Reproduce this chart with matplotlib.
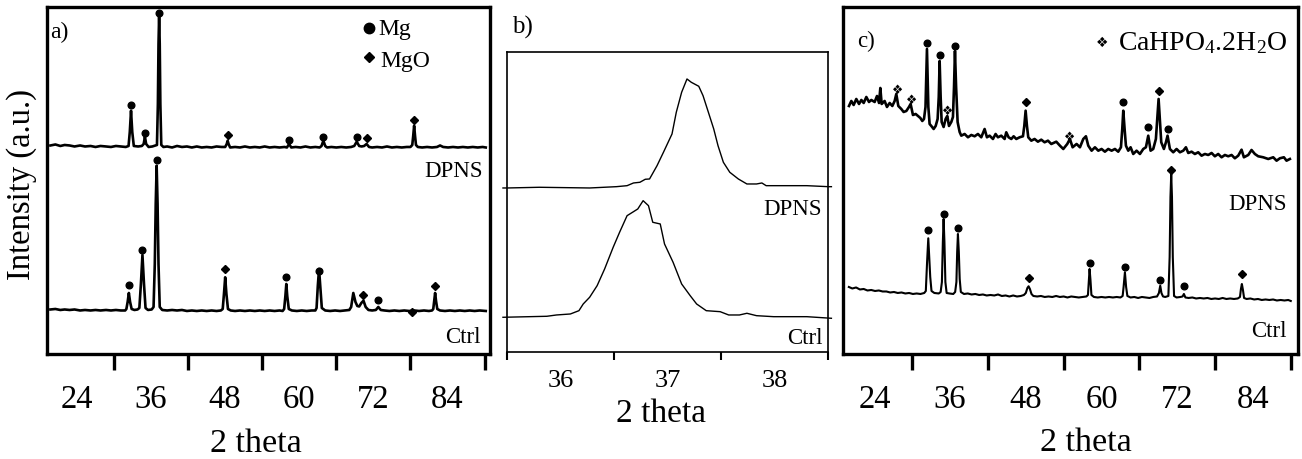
import numpy as np
import matplotlib
matplotlib.use("Agg")
import matplotlib.pyplot as plt

plt.rcParams['font.family'] = ['Liberation Serif', 'DejaVu Sans']
plt.rcParams['mathtext.fontset'] = 'custom'
plt.rcParams['mathtext.rm'] = 'Liberation Serif'
plt.rcParams['mathtext.it'] = 'Liberation Serif:italic'

# ---------------- data ----------------
# panel a: XRD patterns (2 theta, intensity a.u., stacked)
a_dpns = np.array([
    (19.7, 208.5), (20.5, 209.5), (21.3, 208), (22.0, 209), (22.8, 208.5), (23.6, 207.5),
    (24.5, 208.5), (25.3, 207.5), (26.2, 208), (27.0, 207), (27.8, 208), (28.7, 207.5),
    (29.5, 207), (30.3, 208), (31.1, 207.5), (31.9, 207),
    (32.35, 208), (32.55, 222), (32.75, 243.3), (32.95, 222), (33.2, 208),
    (33.9, 207.5), (34.5, 208), (34.8, 210), (35.0, 217.3), (35.2, 210), (35.6, 207),
    (36.2, 207.5), (36.95, 209), (37.1, 250), (37.2, 310), (37.3, 338), (37.4, 310),
    (37.5, 250), (37.65, 209), (38.0, 207), (38.6, 207.5), (39.4, 206.5), (40.2, 208),
    (41.0, 207), (41.8, 207.5), (42.6, 206.5), (43.4, 207.5), (44.2, 206.5), (45.0, 207),
    (45.8, 206.5), (46.6, 207.5), (47.4, 207), (48.0, 207), (48.25, 210), (48.4, 213.3),
    (48.55, 210), (48.8, 206.5), (49.6, 207), (50.4, 206.5), (51.2, 207.5), (52.0, 206.5),
    (52.8, 207), (53.6, 206.5), (54.4, 207.5), (55.2, 206.5), (56.0, 207), (56.8, 206.5),
    (57.6, 207), (58.0, 206.5), (58.35, 210), (58.7, 206.5), (59.4, 207), (60.2, 206.5),
    (61.0, 207.5), (61.8, 206.5), (62.6, 207), (63.3, 206.5), (63.6, 208), (63.9, 213.3),
    (64.2, 208), (64.5, 206.5), (65.2, 207), (66.0, 206.5), (66.8, 207), (67.6, 206.5),
    (68.4, 207), (68.9, 208), (69.3, 212.3), (69.7, 208), (70.1, 207.5), (70.5, 208),
    (70.9, 210), (71.3, 207), (71.8, 206.5), (72.6, 207), (73.4, 206.5), (74.2, 207.5),
    (75.0, 206.5), (75.8, 207), (76.6, 206.5), (77.4, 207), (78.0, 207), (78.3, 209),
    (78.45, 218), (78.6, 228.3), (78.75, 218), (78.9, 209), (79.2, 207), (79.9, 206.5),
    (80.7, 207), (81.5, 206.5), (82.3, 207), (82.8, 208.5), (83.3, 207), (84.1, 206.5),
    (84.9, 207), (85.7, 206.5), (86.5, 207), (87.3, 206.5), (88.1, 207), (88.9, 206.5),
    (89.7, 207), (90.2, 206.5)])

a_ctrl = np.array([
    (19.7, 44.5), (20.5, 45), (21.3, 44), (22.0, 44.5), (22.8, 44), (23.6, 44.5),
    (24.5, 43.5), (25.3, 44), (26.2, 43.5), (27.0, 44), (27.8, 43.5), (28.7, 44),
    (29.5, 43.5), (30.3, 44), (31.1, 43.5), (31.8, 43.5),
    (32.0, 45), (32.2, 52), (32.4, 61), (32.6, 52), (32.85, 45), (33.3, 44), (33.8, 44.5),
    (34.1, 46), (34.35, 70), (34.6, 99), (34.85, 70), (35.1, 46), (35.5, 44), (36.1, 44.5),
    (36.4, 47), (36.6, 90), (36.75, 150), (36.9, 188.3), (37.05, 150), (37.2, 90), (37.4, 47),
    (37.8, 44), (38.6, 43.5), (39.4, 44), (40.2, 43.5), (41.0, 44), (41.8, 43), (42.6, 43.5),
    (43.4, 43), (44.2, 43.5), (45.0, 43), (45.8, 43.5), (46.6, 43), (47.3, 43.5),
    (47.6, 45), (47.8, 60), (48.0, 76.7), (48.2, 60), (48.45, 45), (48.9, 43.5), (49.6, 43),
    (50.4, 43.5), (51.2, 43), (52.0, 43.5), (52.8, 43), (53.6, 43.5), (54.4, 43), (55.2, 43.5),
    (56.0, 43), (56.8, 43.5), (57.3, 43), (57.55, 45), (57.75, 58), (57.9, 70), (58.05, 58),
    (58.3, 45), (58.8, 43.5), (59.6, 43), (60.4, 43.5), (61.2, 43), (62.0, 43.5), (62.6, 43.5),
    (62.8, 46), (63.0, 68), (63.2, 85), (63.4, 68), (63.65, 46), (64.2, 43.5), (65.0, 43),
    (65.8, 43.5), (66.6, 43), (67.4, 43.5), (68.1, 44), (68.4, 47), (68.75, 61), (69.1, 52),
    (69.4, 48), (69.7, 47.5), (70.05, 51), (70.4, 53.3), (70.75, 47), (71.2, 44), (71.8, 43.5),
    (72.4, 44), (72.8, 47), (73.2, 44), (73.8, 43.5), (74.6, 43), (75.4, 43.5), (76.2, 43),
    (77.0, 43.5), (77.8, 43), (78.6, 43.5), (79.4, 43), (80.2, 43.5), (81.0, 43), (81.5, 43.5),
    (81.7, 45), (81.85, 53), (82.0, 61), (82.15, 53), (82.35, 45), (82.8, 43.5), (83.6, 43),
    (84.4, 43.5), (85.2, 43), (86.0, 43.5), (86.8, 43), (87.6, 43.5), (88.4, 43),
    (89.2, 43.5), (90.2, 43)])

# phase markers for panel a (2 theta, height)
a_dpns_mg = np.array([(32.75, 249), (35.0, 221), (37.3, 341), (58.35, 214), (63.9, 217.3), (69.3, 217.3)])
a_dpns_mgo = np.array([(48.4, 219.3), (70.9, 215.7), (78.6, 234)])
a_ctrl_mg = np.array([(32.4, 69), (34.6, 104), (36.9, 194), (57.9, 77), (63.2, 83), (72.8, 54.3)])
a_ctrl_mgo = np.array([(48.0, 85), (70.4, 59.3), (78.2, 42), (82.0, 68.3)])

# panel b: magnified (002)/(101) region
b_dpns = np.array([
    (35.46, 164.3), (35.5, 164.3), (35.8, 165), (36.27, 164.3), (36.52, 165.6), (36.62, 166.6),
    (36.68, 169.3), (36.74, 170), (36.79, 173), (36.83, 173.3), (36.90, 186.6), (36.96, 200),
    (37.04, 218.3), (37.08, 240), (37.13, 260), (37.18, 273.3), (37.22, 270), (37.29, 266),
    (37.33, 256.6), (37.38, 240), (37.43, 223.3), (37.47, 206.6), (37.52, 190), (37.58, 180),
    (37.66, 173.3), (37.74, 168.3), (37.83, 168.3), (37.88, 169.3), (37.92, 166.6),
    (38.05, 166.6), (38.30, 166.6), (38.5, 165.6), (38.53, 165.6)])
b_ctrl = np.array([
    (35.46, 35), (35.87, 36), (35.96, 37.3), (36.09, 38.3), (36.17, 41.6), (36.21, 48.3),
    (36.27, 55), (36.34, 66.6), (36.41, 83.3), (36.49, 105), (36.55, 120), (36.62, 136.6),
    (36.68, 140.6), (36.72, 143.3), (36.77, 151.6), (36.82, 146.6), (36.86, 130),
    (36.93, 128.3), (36.97, 108.3), (37.05, 90), (37.13, 68.3), (37.21, 56.6), (37.27, 48.3),
    (37.36, 41.6), (37.49, 40.6), (37.57, 37.3), (37.67, 37.3), (37.74, 39), (37.83, 36.6),
    (37.99, 35.6), (38.30, 35.6), (38.53, 34)])

# panel c: XRD patterns after immersion
c_dpns = np.array([
    (19.97, 251), (20.34, 256), (20.71, 252), (21.13, 258), (21.56, 253), (21.93, 257),
    (22.30, 254), (22.72, 260), (23.14, 255), (23.51, 257), (24.04, 255), (24.41, 261),
    (24.73, 254), (24.94, 269), (25.15, 253), (25.62, 256), (25.99, 250), (26.42, 254),
    (26.84, 251), (27.21, 256), (27.47, 263), (27.79, 251), (28.26, 248), (28.63, 245),
    (29.06, 246), (29.48, 250), (29.74, 253), (30.11, 242), (30.54, 243), (30.91, 241),
    (31.28, 239), (31.59, 236), (31.86, 238), (32.10, 250), (32.33, 308), (32.55, 250),
    (32.75, 233), (33.02, 231), (33.39, 228), (33.71, 231), (34.02, 238), (34.20, 260),
    (34.34, 296), (34.50, 260), (34.66, 235), (34.97, 230), (35.29, 238), (35.55, 241),
    (35.82, 231), (36.19, 235), (36.45, 240), (36.62, 270), (36.77, 306), (36.95, 270),
    (37.19, 235), (37.51, 225), (37.77, 221.3), (38.30, 223), (38.83, 219.7), (39.36, 222),
    (39.89, 220.7), (40.41, 223), (40.94, 219.7), (41.47, 228), (41.84, 219.7), (42.26, 221.3),
    (42.79, 218), (43.21, 223), (43.58, 219.7), (44.11, 221.3), (44.64, 218), (44.90, 224.7),
    (45.27, 219.7), (45.70, 218), (46.07, 220.7), (46.49, 218), (47.02, 219.7), (47.55, 220.7),
    (47.76, 231), (47.97, 246.3), (48.18, 231), (48.39, 219.7), (48.87, 216.3), (49.39, 218),
    (49.92, 215.3), (50.45, 217.3), (50.98, 214.7), (51.51, 216.3), (52.04, 213),
    (52.83, 215.3), (53.41, 211.3), (53.94, 208), (54.57, 213), (54.99, 218), (55.42, 209.7),
    (56.05, 213), (56.58, 209.7), (57.11, 218), (57.53, 220.7), (57.90, 211.3), (58.43, 206.3),
    (58.96, 209.7), (59.49, 206.3), (60.01, 208), (60.54, 205.3), (61.07, 208), (61.60, 206.3),
    (62.13, 208), (62.65, 205.3), (63.08, 209.7), (63.29, 228), (63.45, 246.3), (63.66, 228),
    (63.87, 211.3), (64.24, 206.3), (64.61, 209.7), (65.03, 203), (65.56, 206.3), (66.09, 203),
    (66.62, 208), (67.04, 209.7), (67.41, 221.3), (67.78, 206.3), (68.20, 208), (68.62, 218),
    (69.05, 258), (69.47, 214.7), (69.89, 208), (70.21, 214.7), (70.47, 221.3), (70.84, 208),
    (71.37, 204.7), (71.90, 208), (72.43, 204.7), (72.96, 206.3), (73.38, 209.7), (73.75, 204),
    (74.28, 205.3), (74.80, 203), (75.33, 204.7), (75.86, 201.3), (76.39, 203), (76.92, 202),
    (77.45, 204), (77.97, 200.7), (78.50, 203), (79.03, 199.7), (79.56, 202), (80.09, 200.7),
    (80.62, 202), (81.14, 198.7), (81.67, 201.3), (82.20, 207.3), (82.57, 199.7), (83.26, 202),
    (83.78, 207), (84.31, 203), (84.84, 200.7), (85.63, 199.7), (86.43, 198), (87.22, 199.7),
    (87.75, 196.3), (88.28, 198.7), (88.91, 199.7), (89.33, 196.3), (89.86, 198)])

c_ctrl = np.array([
    (19.95, 70), (20.5, 68.5), (21.1, 69.5), (21.7, 67.5), (22.3, 68), (22.9, 66.5), (23.5, 67),
    (24.1, 66), (24.7, 66.5), (25.3, 65.5), (25.9, 65.5), (26.5, 64.5), (27.1, 65), (27.7, 64),
    (28.3, 64.5), (28.9, 63.5), (29.5, 64), (30.1, 63), (30.7, 63.5), (31.3, 63), (31.9, 64),
    (32.15, 66), (32.35, 95), (32.54, 118.7), (32.7, 98), (32.85, 80), (33.05, 66), (33.5, 64),
    (34.2, 63.5), (34.5, 65), (34.7, 75), (34.85, 115), (34.97, 138), (35.1, 115), (35.25, 75),
    (35.45, 64), (35.9, 63.5), (36.5, 63), (36.8, 65), (37.0, 75), (37.12, 105), (37.24, 123),
    (37.38, 105), (37.52, 78), (37.7, 65), (38.2, 63), (38.8, 63.5), (39.4, 62.5), (40.0, 63),
    (40.6, 62), (41.2, 62.5), (41.8, 61.5), (42.4, 62), (43.0, 61.5), (43.6, 62.5), (44.2, 61),
    (44.8, 61.5), (45.4, 60.5), (46.0, 61.5), (46.6, 60.5), (47.2, 61), (47.7, 62), (48.0, 64),
    (48.25, 69), (48.44, 70.7), (48.65, 68), (48.9, 63), (49.2, 61), (49.8, 60.5), (50.4, 61),
    (51.0, 60), (51.6, 60.5), (52.2, 60), (52.8, 61), (53.4, 60), (54.0, 60.5), (54.6, 59.5),
    (55.2, 60.5), (55.8, 60), (56.4, 59.5), (57.0, 60), (57.6, 60.5), (57.85, 62), (58.0, 77),
    (58.11, 88), (58.25, 77), (58.4, 62), (58.8, 60), (59.4, 59.5), (60.0, 60), (60.6, 59.5),
    (61.2, 60), (61.8, 59.5), (62.4, 60), (63.0, 59.5), (63.35, 61), (63.5, 70), (63.71, 84.7),
    (63.9, 70), (64.1, 61), (64.6, 59.5), (65.2, 60), (65.8, 59), (66.4, 60), (67.0, 59.5),
    (67.6, 59), (68.2, 60), (68.8, 60.5), (69.1, 64), (69.31, 71.3), (69.5, 64), (69.75, 60.5),
    (70.1, 60), (70.6, 61), (70.8, 100), (70.93, 160), (71.05, 183), (71.17, 160), (71.3, 100),
    (71.5, 61), (71.9, 59.5), (72.5, 60), (72.85, 60.5), (73.06, 63), (73.3, 59.5), (73.8, 59),
    (74.4, 59.5), (75.0, 58.5), (75.6, 59), (76.2, 58.5), (76.8, 59), (77.4, 58), (78.0, 58.5),
    (78.6, 58), (79.2, 59), (79.8, 58), (80.4, 58.5), (81.0, 58), (81.6, 58.5), (81.95, 60),
    (82.1, 68), (82.25, 73), (82.42, 67), (82.6, 59), (83.0, 58), (83.6, 58.5), (84.2, 57.5),
    (84.8, 58), (85.4, 57), (86.0, 57.5), (86.6, 57), (87.2, 57.5), (87.8, 56.5), (88.4, 57),
    (89.0, 56.5), (89.6, 57), (90.0, 56)])

c_dpns_mg = np.array([(32.33, 314), (34.34, 302), (36.77, 311), (63.45, 254.7), (67.41, 229.7), (70.47, 228)])
c_dpns_mgo = np.array([(47.97, 255.3), (69.05, 266.3)])
c_dpns_dcpd = np.array([(27.63, 268), (29.85, 257.3), (35.55, 247), (55.0, 220.7)])
c_ctrl_mg = np.array([(32.54, 127), (34.97, 143), (37.24, 128.7), (58.11, 93.7), (63.71, 89.7), (69.31, 77), (73.06, 70.7)])
c_ctrl_mgo = np.array([(48.44, 78.7), (71.05, 187), (82.25, 83)])

wide_ticks = [30, 42, 54, 66, 78, 90]
wide_labels = [24, 36, 48, 60, 72, 84]
zoom_ticks = [35.5, 36.5, 37.5, 38.5]
zoom_labels = [36, 37, 38]

DCPD = '\u2756'

# ---------------- figure ----------------
fig = plt.figure(figsize=(13.02, 4.6), dpi=100)
ax_a = fig.add_axes([0.0359, 0.2283, 0.3405, 0.7537])
ax_b = fig.add_axes([0.3896, 0.2320, 0.2465, 0.6535])
ax_c = fig.add_axes([0.6477, 0.2283, 0.3490, 0.7537])


def style_wide(ax, xlim, ylim):
    ax.set_xlim(*xlim)
    ax.set_ylim(*ylim)
    ax.set_yticks([])
    ax.set_xticks(wide_ticks, labels=[''] * len(wide_ticks))
    ax.set_xticks(wide_labels, labels=[str(v) for v in wide_labels], minor=True)
    ax.tick_params(axis='x', which='major', direction='out', length=11.5, width=2.4)
    ax.tick_params(axis='x', which='minor', length=0, pad=21, labelsize=23.5)
    for s in ax.spines.values():
        s.set_linewidth(2.4)


def marks(ax, pts, kind):
    if kind == 'mg':
        ax.plot(pts[:, 0], pts[:, 1], 'o', color='black', ms=4.8, linestyle='none', clip_on=False)
    else:
        ax.plot(pts[:, 0], pts[:, 1], 'D', color='black', ms=4.4, linestyle='none', clip_on=False)


# panel a
style_wide(ax_a, (19.1, 90.9), (0, 346.7))
ax_a.plot(a_dpns[:, 0], a_dpns[:, 1], color='black', lw=1.9)
ax_a.plot(a_ctrl[:, 0], a_ctrl[:, 1], color='black', lw=1.9)
marks(ax_a, a_dpns_mg, 'mg')
marks(ax_a, a_dpns_mgo, 'mgo')
marks(ax_a, a_ctrl_mg, 'mg')
marks(ax_a, a_ctrl_mgo, 'mgo')
ax_a.text(0.0074, 0.914, 'a)', transform=ax_a.transAxes, fontsize=17, va='baseline', ha='left')
ax_a.text(0.983, 0.514, 'DPNS', transform=ax_a.transAxes, fontsize=16.5, va='baseline', ha='right')
ax_a.text(0.978, 0.034, 'Ctrl', transform=ax_a.transAxes, fontsize=16.5, va='baseline', ha='right')
ax_a.plot([0.727], [0.940], 'o', color='black', ms=7.5, transform=ax_a.transAxes, clip_on=False)
ax_a.text(0.747, 0.923, 'Mg', transform=ax_a.transAxes, fontsize=17, va='baseline', ha='left')
ax_a.plot([0.727], [0.858], 'D', color='black', ms=5.2, transform=ax_a.transAxes, clip_on=False)
ax_a.text(0.752, 0.832, 'MgO', transform=ax_a.transAxes, fontsize=17, va='baseline', ha='left')

# panel b
ax_b.set_xlim(35.5, 38.5)
ax_b.set_ylim(0, 300.6)
ax_b.set_yticks([])
ax_b.set_xticks(zoom_ticks, labels=[''] * len(zoom_ticks))
ax_b.set_xticks(zoom_labels, labels=[str(v) for v in zoom_labels], minor=True)
ax_b.tick_params(axis='x', which='major', direction='out', length=6, width=1.5)
ax_b.tick_params(axis='x', which='minor', length=0, pad=12, labelsize=19)
for s in ax_b.spines.values():
    s.set_linewidth(1.2)
ax_b.plot(b_dpns[:, 0], b_dpns[:, 1], color='black', lw=1.0, clip_on=False)
ax_b.plot(b_ctrl[:, 0], b_ctrl[:, 1], color='black', lw=1.0, clip_on=False)
ax_b.text(0.0137, 1.0646, 'b)', transform=ax_b.transAxes, fontsize=18, va='baseline', ha='left')
ax_b.text(0.981, 0.46, 'DPNS', transform=ax_b.transAxes, fontsize=16.5, va='baseline', ha='right')
ax_b.text(0.984, 0.031, 'Ctrl', transform=ax_b.transAxes, fontsize=16.5, va='baseline', ha='right')

# panel c
style_wide(ax_c, (19.07, 91.1), (3, 349.7))
ax_c.plot(c_dpns[:, 0], c_dpns[:, 1], color='black', lw=1.9)
ax_c.plot(c_ctrl[:, 0], c_ctrl[:, 1], color='black', lw=1.5)
marks(ax_c, c_dpns_mg, 'mg')
marks(ax_c, c_dpns_mgo, 'mgo')
marks(ax_c, c_ctrl_mg, 'mg')
marks(ax_c, c_ctrl_mgo, 'mgo')
for t, h in c_dpns_dcpd:
    ax_c.text(t, h, DCPD, family=['DejaVu Sans'], fontsize=9, ha='center', va='center')
ax_c.text(0.0295, 0.889, 'c)', transform=ax_c.transAxes, fontsize=16.5, va='baseline', ha='left')
ax_c.text(0.976, 0.418, 'DPNS', transform=ax_c.transAxes, fontsize=16.5, va='baseline', ha='right')
ax_c.text(0.976, 0.053, 'Ctrl', transform=ax_c.transAxes, fontsize=16.5, va='baseline', ha='right')
ax_c.text(0.5687, 0.901, DCPD, transform=ax_c.transAxes, family=['DejaVu Sans'], fontsize=10,
          ha='center', va='center')
ax_c.text(0.605, 0.880, r'CaHPO$_4$.2H$_2$O', transform=ax_c.transAxes, fontsize=20,
          va='baseline', ha='left')

# shared labels
fig.text(0.0167, 0.60, 'Intensity (a.u.)', rotation=90, fontsize=23.5, ha='center', va='center')
fig.text(0.1966, 0.018, '2 theta', fontsize=24.5, ha='center', va='baseline')
fig.text(0.508, 0.0833, '2 theta', fontsize=24, ha='center', va='baseline')
fig.text(0.834, 0.0203, '2 theta', fontsize=24.5, ha='center', va='baseline')

fig.savefig('out.png', dpi=100)
